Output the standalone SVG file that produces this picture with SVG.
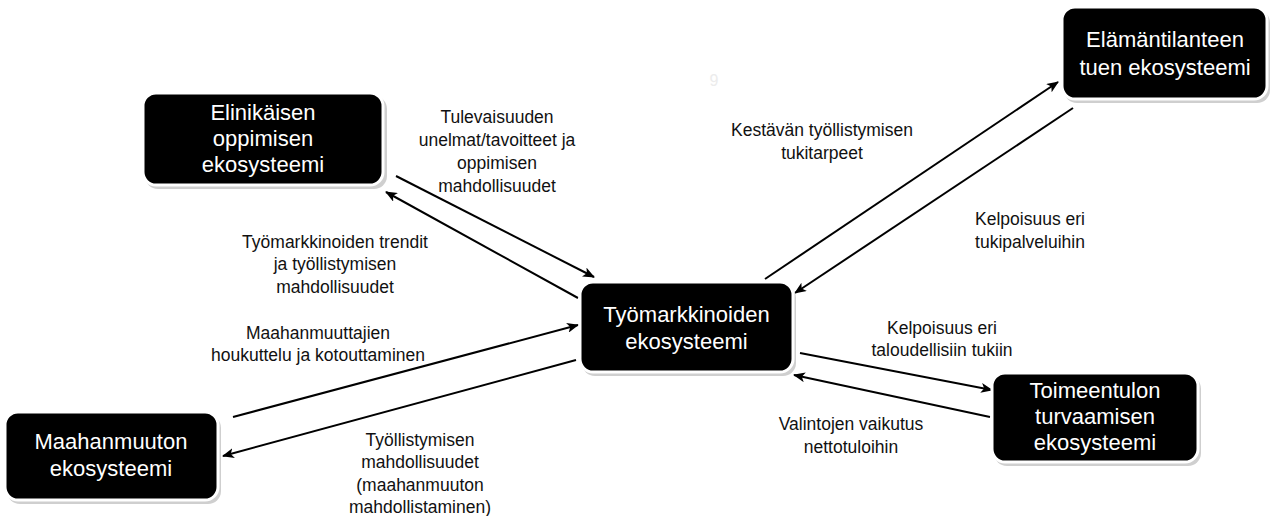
<svg xmlns="http://www.w3.org/2000/svg" width="1272" height="516" viewBox="0 0 1272 516">
  <defs>
    <marker id="arrow" viewBox="0 0 12 10" refX="11" refY="5" markerWidth="12" markerHeight="10" markerUnits="userSpaceOnUse" orient="auto">
      <path d="M0,0 L12,5 L0,10 L3,5 Z" fill="#000"/>
    </marker>
  </defs>
  <style>
    .shadow { fill: #cfcfcf; }
    .box { fill: #000; stroke: #fff; stroke-width: 3; }
    .ntext { font-family: "Liberation Sans", Arial, sans-serif; font-size: 22px; fill: #fff; text-anchor: middle; }
    .label { font-family: "Liberation Sans", Arial, sans-serif; font-size: 17.5px; fill: #111; text-anchor: middle; }
    .edge { stroke: #000; stroke-width: 2; fill: none; marker-end: url(#arrow); }
  </style>
  <rect width="1272" height="516" fill="#fff"/>

  <!-- faint page number -->
  <text x="714" y="86" font-family="Liberation Sans, Arial, sans-serif" font-size="16" fill="#ececec" text-anchor="middle">9</text>

  <g id="connectors">
    <line class="edge" x1="396" y1="176" x2="594" y2="277"/>
    <line class="edge" x1="578" y1="298" x2="386" y2="192"/>
    <line class="edge" x1="233" y1="417" x2="578" y2="325"/>
    <line class="edge" x1="576" y1="360" x2="223" y2="456"/>
    <line class="edge" x1="765" y1="279" x2="1058" y2="82"/>
    <line class="edge" x1="1073" y1="108" x2="795" y2="293"/>
    <line class="edge" x1="800" y1="353" x2="992" y2="390"/>
    <line class="edge" x1="990" y1="417" x2="794" y2="375"/>
  </g>

  <g id="node-elinikainen">
    <rect class="shadow" x="145" y="96" width="242" height="93" rx="13"/>
    <rect class="box" x="143" y="93" width="240" height="92" rx="13"/>
    <text class="ntext" x="263" y="120">Elinikäisen</text>
    <text class="ntext" x="263" y="146">oppimisen</text>
    <text class="ntext" x="263" y="172">ekosysteemi</text>
  </g>

  <g id="node-elamantilanne">
    <rect class="shadow" x="1064" y="10" width="206" height="93" rx="13"/>
    <rect class="box" x="1062" y="7" width="205" height="92" rx="13"/>
    <text class="ntext" x="1165" y="47">Elämäntilanteen</text>
    <text class="ntext" x="1165" y="75">tuen ekosysteemi</text>
  </g>

  <g id="node-tyomarkkinat">
    <rect class="shadow" x="582" y="285" width="214" height="91" rx="13"/>
    <rect class="box" x="580" y="282" width="213" height="90" rx="13"/>
    <text class="ntext" x="686.5" y="322">Työmarkkinoiden</text>
    <text class="ntext" x="686.5" y="349">ekosysteemi</text>
  </g>

  <g id="node-toimeentulo">
    <rect class="shadow" x="994" y="376" width="207" height="90" rx="13"/>
    <rect class="box" x="992" y="373" width="206" height="89" rx="13"/>
    <text class="ntext" x="1095" y="398">Toimeentulon</text>
    <text class="ntext" x="1095" y="424">turvaamisen</text>
    <text class="ntext" x="1095" y="450">ekosysteemi</text>
  </g>

  <g id="node-maahanmuutto">
    <rect class="shadow" x="7" y="415" width="214" height="89" rx="13"/>
    <rect class="box" x="5" y="412" width="213" height="88" rx="13"/>
    <text class="ntext" x="111" y="449">Maahanmuuton</text>
    <text class="ntext" x="111" y="476">ekosysteemi</text>
  </g>

  <g id="labels">
    <text class="label" x="497" y="123">Tulevaisuuden</text>
    <text class="label" x="497" y="146">unelmat/tavoitteet ja</text>
    <text class="label" x="497" y="169">oppimisen</text>
    <text class="label" x="497" y="192">mahdollisuudet</text>

    <text class="label" x="335" y="248">Työmarkkinoiden trendit</text>
    <text class="label" x="335" y="270">ja työllistymisen</text>
    <text class="label" x="335" y="293">mahdollisuudet</text>

    <text class="label" x="822" y="136">Kestävän työllistymisen</text>
    <text class="label" x="822" y="159">tukitarpeet</text>

    <text class="label" x="1030" y="225">Kelpoisuus eri</text>
    <text class="label" x="1030" y="248">tukipalveluihin</text>

    <text class="label" x="318" y="339">Maahanmuuttajien</text>
    <text class="label" x="318" y="361">houkuttelu ja kotouttaminen</text>

    <text class="label" x="420" y="446">Työllistymisen</text>
    <text class="label" x="420" y="468">mahdollisuudet</text>
    <text class="label" x="420" y="491">(maahanmuuton</text>
    <text class="label" x="420" y="513">mahdollistaminen)</text>

    <text class="label" x="942" y="334">Kelpoisuus eri</text>
    <text class="label" x="942" y="356">taloudellisiin tukiin</text>

    <text class="label" x="851" y="430">Valintojen vaikutus</text>
    <text class="label" x="851" y="453">nettotuloihin</text>
  </g>
</svg>
